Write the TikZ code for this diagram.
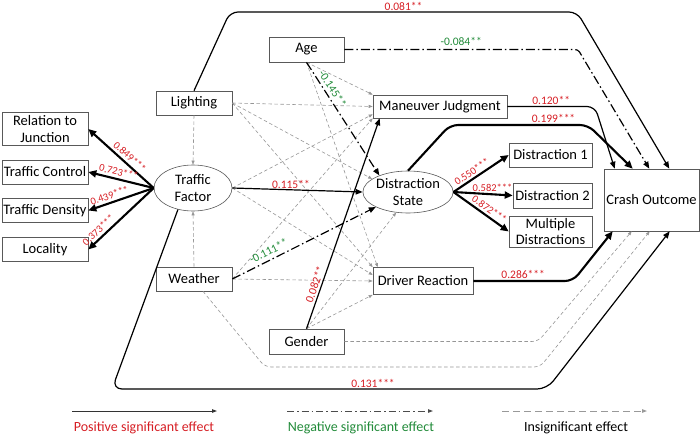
\documentclass[tikz,border=0pt]{standalone}
\usepackage{fontspec}
\setmainfont{Carlito}
\usetikzlibrary{arrows.meta,shapes.geometric,calc}
\definecolor{posred}{RGB}{214,30,36}
\definecolor{neggreen}{RGB}{34,139,58}
\definecolor{insgray}{RGB}{150,150,150}

\tikzset{
  box/.style={draw=black!65, line width=0.6pt, align=center, inner sep=1pt,
    font=\fontsize{14.5}{16.5}\selectfont},
  latent/.style={ellipse, draw=black!65, line width=0.6pt, align=center, inner sep=0pt,
    font=\fontsize{14.5}{16.5}\selectfont, minimum width=78pt, minimum height=46pt},
  sigpos/.style={-{Triangle[length=7pt,width=5.5pt]}, line width=1.2pt, black},
  sigbold/.style={sigpos, line width=2.1pt, -{Triangle[length=8pt,width=7pt]}},
  sigback/.style={sigbold, {Triangle[length=8pt,width=7pt]}-},
  signeg/.style={sigpos, dash pattern=on 9pt off 3pt on 1.5pt off 3pt},
  insig/.style={-{Triangle[length=4pt,width=3pt]}, insgray, line width=0.6pt,
    dash pattern=on 3.5pt off 2.5pt},
  coef/.style={font=\fontsize{11.5}{12}\selectfont, text=posred, inner sep=1pt},
  coefneg/.style={coef, text=neggreen},
  coefsm/.style={coef, font=\fontsize{10.5}{11}\selectfont},
  legtext/.style={font=\fontsize{14}{16}\selectfont}
}

\begin{document}
\begin{tikzpicture}[x=1pt,y=-1pt]
  \useasboundingbox (0,0) rectangle (700,436);
  \path
  node[box, minimum width=86pt, minimum height=33pt] (rj) at (45,129) {Relation to\\Junction}
  node[box, minimum width=86pt, minimum height=24pt] (tc) at (45,172) {Traffic Control}
  node[box, minimum width=86pt, minimum height=24pt] (td) at (45,210.5) {Traffic Density}
  node[box, minimum width=86pt, minimum height=24pt] (loc) at (45,249.5) {Locality}
  node[latent] (tf) at (193,188) {Traffic\\Factor}
  node[box, minimum width=76pt, minimum height=24pt] (lighting) at (194,103) {Lighting}
  node[box, minimum width=76pt, minimum height=24pt] (weather) at (194,279) {Weather}
  node[box, minimum width=75pt, minimum height=25pt] (age) at (306.5,49.5) {Age}
  node[box, minimum width=75pt, minimum height=25pt] (gender) at (306.5,341.5) {Gender}
  node[box, minimum width=134pt, minimum height=23pt] (mj) at (440,106.5) {Maneuver Judgment}
  node[latent, minimum height=42pt] (ds) at (408,192) {Distraction\\State}
  node[box, minimum width=100pt, minimum height=27pt] (dr) at (423,281) {Driver Reaction}
  node[box, minimum width=83pt, minimum height=24pt] (d1) at (550.5,155) {Distraction 1}
  node[box, minimum width=79pt, minimum height=25pt] (d2) at (552.5,195.5) {Distraction 2}
  node[box, minimum width=83pt, minimum height=31pt] (md) at (550.5,231.5) {Multiple\\Distractions}
  node[box, minimum width=95pt, minimum height=62pt] (co) at (651.5,200) {Crash Outcome}
  ;
  \path[insig]
  (lighting.south) edge (tf.north)
  (weather.north) edge (tf.south)
  (lighting.east) edge (mj.west)
  (lighting.east) edge (ds.160)
  (lighting.east) edge (dr.north west)
  (age.south) edge (mj.north west)
  (age.south) edge ($(dr.north west)+(5,0)$)
  (tf.east) edge ($(mj.south west)+(0,-4)$)
  (weather.east) edge (mj.south west)
  (tf.east) edge ($(dr.west)+(0,-6)$)
  (weather.east) edge (dr.west)
  (gender.north) edge (ds.240)
  (gender.north) edge (dr.south west)
  ;
  \path[sigback]
  (rj.east) edge node[coefsm, sloped, above=1.5pt, pos=0.56] {0.849***} (tf.west)
  (tc.east) edge node[coefsm, sloped, above=1.5pt, pos=0.44] {0.723***} (tf.west)
  (td.east) edge node[coefsm, sloped, above=1.5pt, pos=0.36] {0.439***} (tf.west)
  (loc.east) edge node[coefsm, sloped, above=1.5pt, pos=0.23] {0.373***} (tf.west)
  ;
  \path[sigbold]
  (ds.east) edge node[coefsm, sloped, above=1pt, pos=0.4] {0.550***} (d1.west)
  (ds.east) edge node[coefsm, above=1pt, pos=0.66] {0.582***} (d2.west)
  (ds.east) edge node[coefsm, sloped, above=1pt, pos=0.58] {0.872***} (md.west)
  ;
  \path[sigpos]
  (tf.east) edge node[coef, above, pos=0.45] {0.115**} (ds.west)
  (gender.north) edge node[coef, sloped, above=1pt, pos=0.2] {0.082**} ($(mj.south west)+(7,0)$)
  ;
  \path[signeg]
  (age.south) edge node[coefneg, sloped, above=2pt, pos=0.27] {-0.145**} (ds.150)
  (weather.east) edge node[coefneg, sloped, above=3pt, pos=0.28] {-0.111**} (ds.205)
  ;
  \draw[sigpos, rounded corners=8pt] (lighting.north) -- (230,12)
    -- node[coef, above] {0.081**} (577,12) -- ($(co.north east)+(-30,0)$);
  \draw[signeg, rounded corners=3pt] (age.east)
    -- node[coefneg, above=2pt] {-0.084**} (578,49.5) -- ($(co.north east)+(-50,0)$);
  \draw[sigpos, rounded corners=8pt] (mj.east)
    -- node[coef, above] {0.120**} (595,106.5) -- ($(co.north west)+(11,0)$);
  \draw[sigbold, rounded corners=8pt] (ds.north) -- (450,125)
    -- node[coef, above, pos=0.75] {0.199***} (588,125) -- ($(co.north west)+(29,0)$);
  \draw[sigbold, rounded corners=8pt] (dr.east)
    -- node[coef, above] {0.286***} (573,281) -- ($(co.south west)+(9,0)$);
  \draw[insig, rounded corners=6pt] (gender.east) -- (538,341.5) -- ($(co.south west)+(28,0)$);
  \draw[insig, rounded corners=6pt] ($(weather.south)+(9,0)$) -- (265,367) -- (540,367)
    -- ($(co.south west)+(46,0)$);
  \draw[sigpos, rounded corners=10pt] (tf.235) -- (112,389)
    -- node[coef, above, pos=0.6] {0.131***} (547,389) -- ($(co.south west)+(66,0)$);

  \coordinate (pa) at (72,411);
  \coordinate (pb) at (217,411);
  \coordinate (na) at (287,411);
  \coordinate (nb) at (433,411);
  \coordinate (ia) at (502,411);
  \coordinate (ib) at (647,411);
  \draw[-{Triangle[length=5pt,width=3.5pt]}, line width=0.9pt, black!80] (pa) -- (pb);
  \draw[-{Triangle[length=5pt,width=3.5pt]}, line width=0.9pt, black!70,
    dash pattern=on 7pt off 3pt on 1.5pt off 3pt] (na) -- (nb);
  \draw[-{Triangle[length=5pt,width=3.5pt]}, line width=0.9pt, black!40,
    dash pattern=on 7pt off 4pt] (ia) -- (ib);
  \node[legtext, text=posred] (lpos) at (144,428) {Positive significant effect};
  \node[legtext, text=neggreen] (lneg) at (361,428) {Negative significant effect};
  \node[legtext] (lins) at (576,428) {Insignificant effect};
\end{tikzpicture}
\end{document}
